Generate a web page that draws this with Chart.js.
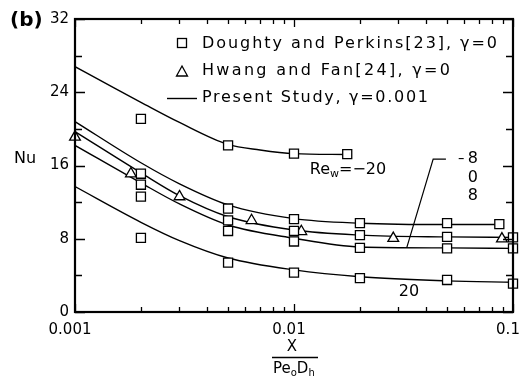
<!DOCTYPE html>
<html><head><meta charset="utf-8">
<script src="https://cdn.jsdelivr.net/npm/chart.js@4"></script>
<style>html,body{margin:0;padding:0;background:#fff}</style>
</head><body>
<canvas id="c" width="526" height="388"></canvas>
<script>
// ---- data ----
const xTicks = [0.001, 0.01, 0.1];
const yTicks = [0, 8, 16, 24, 32];

// Doughty and Perkins [23], gamma = 0 (squares)
const dpX  = [0.002,0.002,0.002,0.002,0.002, 0.005,0.005,0.005,0.005,0.005, 0.01,0.01,0.01,0.01,0.01, 0.0175, 0.02,0.02,0.02,0.02, 0.05,0.05,0.05,0.05, 0.0866, 0.1,0.1,0.1];
const dpNu = [21.1,15.1,13.9,12.6,8.1, 18.2,11.3,10.0,8.85,5.4, 17.3,10.15,8.85,7.7,4.3, 17.25, 9.7,8.4,7.0,3.7, 9.7,8.2,6.95,3.5, 9.6, 8.15,6.95,3.1];

// Hwang and Fan [24], gamma = 0 (triangles)
const hfX  = [0.001, 0.0018, 0.003, 0.0064, 0.0108, 0.0284, 0.089];
const hfNu = [19.1, 15.1, 12.6, 10.0, 8.8, 8.05, 8.0];

// Present study, gamma = 0.001 (lines)
const xRem20 = [0.001, 0.0015, 0.002, 0.003, 0.005, 0.007, 0.01, 0.0175];
const nuRem20 = [26.8, 24.5, 22.9, 20.7, 18.3, 17.7, 17.3, 17.2];
const xRem8 = [0.001, 0.002, 0.003, 0.005, 0.01, 0.02, 0.05, 0.0866];
const nuRem8 = [20.8, 16.3, 14.0, 11.7, 10.2, 9.7, 9.55, 9.55];
const xCurve = [0.001, 0.002, 0.003, 0.005, 0.01, 0.02, 0.05, 0.1];
const nuRe0  = [19.7, 15.2, 12.7, 10.4, 8.95, 8.4, 8.2, 8.15];
const nuRe8  = [18.2, 14.1, 11.8, 9.5, 8.05, 7.1, 7.0, 6.95];
const nuRe20 = [13.7, 9.8, 7.8, 5.9, 4.6, 3.85, 3.4, 3.25];

// ---- build chart ----
const pts = (xs, ys) => xs.map((x, i) => ({x, y: ys[i]}));
const FONT = "'DejaVu Sans', sans-serif";
Chart.defaults.font.family = FONT;
Chart.defaults.color = '#000';

const lineDs = (xs, ys) => ({
  data: pts(xs, ys), showLine: true, borderColor: '#000', borderWidth: 1.4,
  pointRadius: 0, pointHoverRadius: 0, cubicInterpolationMode: 'monotone', fill: false
});

function fitText(ctx, txt, x, y, w) {
  ctx.letterSpacing = '0px';
  const m = ctx.measureText(txt).width;
  const n = [...txt].length;
  const sp = n > 1 ? (w - m) / (n - 1) : 0;
  ctx.letterSpacing = sp + 'px';
  ctx.fillText(txt, x, y);
  ctx.letterSpacing = '0px';
}

const deco = {
  id: 'deco',
  afterDraw(chart) {
    const {ctx, chartArea: a, scales: {x, y}} = chart;
    ctx.save();
    ctx.strokeStyle = '#000'; ctx.fillStyle = '#000';
    // inward tick marks
    ctx.lineWidth = 1.3;
    ctx.beginPath();
    for (let e = -3; e < -1; e++) {
      for (let m = 1; m <= 10; m++) {
        const v = m * Math.pow(10, e);
        const px = Math.round(x.getPixelForValue(v)) + 0.5;
        const len = (m === 1 || m === 10) ? 8 : 5;
        ctx.moveTo(px, a.bottom); ctx.lineTo(px, a.bottom - len);
        ctx.moveTo(px, a.top); ctx.lineTo(px, a.top + len);
      }
    }
    for (let v = 0; v <= 32; v += 4) {
      const py = Math.round(y.getPixelForValue(v)) + 0.5;
      const len = (v % 8 === 0) ? 10 : 7;
      ctx.moveTo(a.left, py); ctx.lineTo(a.left + len, py);
      ctx.moveTo(a.right, py); ctx.lineTo(a.right - len, py);
    }
    ctx.stroke();
    // frame
    ctx.lineWidth = 2.2;
    ctx.strokeRect(a.left, a.top, a.right - a.left, a.bottom - a.top);

    // panel label and axis titles
    ctx.textBaseline = 'middle';
    ctx.textAlign = 'left';
    ctx.font = 'bold 20px ' + FONT;
    ctx.fillText('(b)', 10, 21);
    ctx.font = '16px ' + FONT;
    ctx.fillText('Nu', 14, 159);

    // x-axis fraction title
    ctx.font = '15px ' + FONT;
    ctx.textAlign = 'center';
    ctx.fillText('X', 292, 347);
    ctx.lineWidth = 1.3;
    ctx.beginPath(); ctx.moveTo(272, 357.5); ctx.lineTo(318, 357.5); ctx.stroke();
    ctx.textAlign = 'left';
    let cx = 273;
    const seg = (t, sz, dy) => { ctx.font = sz + 'px ' + FONT; ctx.fillText(t, cx, 369 + dy); cx += ctx.measureText(t).width; };
    seg('Pe', 15, 0); seg('o', 10, 4); seg('D', 15, 0); seg('h', 10, 4);

    // legend
    const L = 182;
    ctx.lineWidth = 1.3;
    ctx.strokeRect(L - 4.5, 43 - 4.5, 9, 9);
    ctx.beginPath(); ctx.moveTo(L, 66); ctx.lineTo(L + 5.5, 76); ctx.lineTo(L - 5.5, 76); ctx.closePath(); ctx.stroke();
    ctx.lineWidth = 1.4;
    ctx.beginPath(); ctx.moveTo(167, 98.5); ctx.lineTo(197, 98.5); ctx.stroke();
    ctx.font = '16px ' + FONT;
    fitText(ctx, 'Doughty and Perkins[23], \u03b3=0', 202, 44, 295);
    fitText(ctx, 'Hwang and Fan[24], \u03b3=0', 202, 71, 248);
    fitText(ctx, 'Present Study, \u03b3=0.001', 202, 98, 226);

    // curve labels (positioned in data coordinates)
    const P = (vx, vy) => [x.getPixelForValue(vx), y.getPixelForValue(vy)];
    let [rx, ry] = P(0.0118, 15.5);
    cx = rx;
    const seg2 = (t, sz, dy) => { ctx.font = sz + 'px ' + FONT; ctx.fillText(t, cx, ry + dy); cx += ctx.measureText(t).width; };
    seg2('Re', 16, 0); seg2('w', 11, 4); seg2('=\u2212', 16, 0); seg2('20', 16, 0);

    ctx.font = '16px ' + FONT;
    ctx.textAlign = 'center';
    let [tx, ty] = P(0.0335, 2.2);
    ctx.fillText('20', tx, ty);
    [tx, ty] = P(0.0656, 16.7);
    ctx.fillText('8', tx, ty);
    ctx.fillText('0', tx, y.getPixelForValue(14.7));
    ctx.fillText('8', tx, y.getPixelForValue(12.65));
    // small dash before top 8
    ctx.lineWidth = 1.1;
    const [d1] = P(0.0565, 16.7);
    ctx.beginPath(); ctx.moveTo(d1, ty - 0.5); ctx.lineTo(d1 + 5, ty - 0.5); ctx.stroke();
    // leader
    const [l0x, l0y] = P(0.0327, 7.0);
    const [l1x, l1y] = P(0.0432, 16.7);
    const [l2x] = P(0.0494, 16.7);
    ctx.lineWidth = 1.2;
    ctx.beginPath(); ctx.moveTo(l0x, l0y); ctx.lineTo(l1x, l1y); ctx.lineTo(l2x, l1y); ctx.stroke();
    ctx.restore();
  }
};

new Chart(document.getElementById('c'), {
  type: 'scatter',
  data: {
    datasets: [
      {data: pts(dpX, dpNu), pointStyle: 'rect', pointRadius: 6.4, pointBorderWidth: 1.3,
       pointBorderColor: '#000', pointBackgroundColor: '#fff', clip: false, showLine: false},
      {data: pts(hfX, hfNu), pointStyle: 'triangle', pointRadius: 6.2, pointBorderWidth: 1.3,
       pointBorderColor: '#000', pointBackgroundColor: '#fff', clip: false, showLine: false},
      lineDs(xRem20, nuRem20),
      lineDs(xRem8, nuRem8),
      lineDs(xCurve, nuRe0),
      lineDs(xCurve, nuRe8),
      lineDs(xCurve, nuRe20)
    ]
  },
  options: {
    responsive: false, animation: false, devicePixelRatio: 1,
    layout: {padding: {top: 19, right: 13, left: 0, bottom: 0}},
    plugins: {legend: {display: false}, tooltip: {enabled: false}},
    scales: {
      x: {
        type: 'logarithmic', min: 0.001, max: 0.1,
        grid: {display: false, drawTicks: false}, border: {display: false},
        afterBuildTicks: s => { s.ticks = xTicks.map(v => ({value: v})); },
        afterFit: s => { s.height = 76; s.paddingLeft = 0; s.paddingRight = 0; },
        ticks: {padding: 9, labelOffset: -5, maxRotation: 0, autoSkip: false, align: 'center',
                font: {size: 15}, callback: v => String(v)}
      },
      y: {
        min: 0, max: 32,
        grid: {display: false, drawTicks: false}, border: {display: false},
        afterBuildTicks: s => { s.ticks = yTicks.map(v => ({value: v})); },
        afterFit: s => { s.width = 75; },
        ticks: {padding: 6, font: {size: 15}}
      }
    }
  },
  plugins: [deco]
});
</script>
</body></html>
